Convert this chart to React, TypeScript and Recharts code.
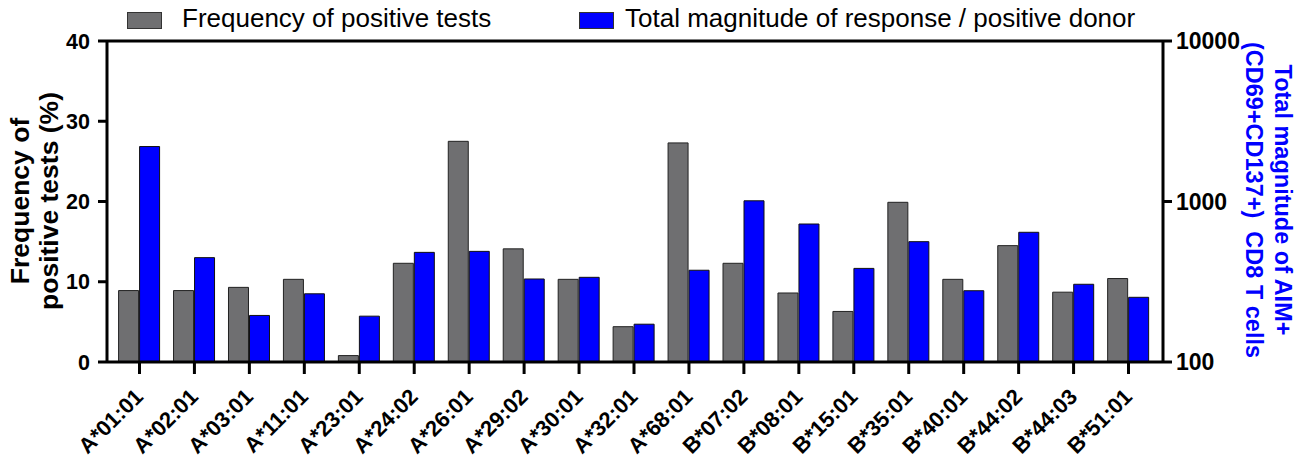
import React from "react";
import {
  ComposedChart,
  Bar,
  XAxis,
  YAxis,
  ReferenceLine,
} from "recharts";

const categories = [
  "A*01:01", "A*02:01", "A*03:01", "A*11:01", "A*23:01", "A*24:02", "A*26:01",
  "A*29:02", "A*30:01", "A*32:01", "A*68:01", "B*07:02", "B*08:01", "B*15:01",
  "B*35:01", "B*40:01", "B*44:02", "B*44:03", "B*51:01",
];
const frequency = [8.9, 8.9, 9.3, 10.3, 0.8, 12.3, 27.5, 14.1, 10.3, 4.4, 27.3, 12.3, 8.6, 6.3, 19.9, 10.3, 14.5, 8.7, 10.4];
const magnitude = [2200, 447, 195, 266, 193, 482, 489, 329, 337, 172, 373, 1010, 724, 383, 562, 278, 643, 305, 253];
const leftTicks = [0, 10, 20, 30, 40];
const rightTicks = [100, 1000, 10000];

const seriesNames = {
  frequency: "Frequency of positive tests",
  magnitude: "Total magnitude of response / positive donor",
};

const data = categories.map((c, i) => ({
  name: c,
  frequency: frequency[i],
  magnitude: magnitude[i],
}));

const FONT = "'Liberation Sans', Arial, Helvetica, sans-serif";
const GRAY = "#6f6f71";
const BLUE = "#0000ff";

const XTick = (props: any) => {
  const { x, y, payload } = props;
  return (
    <g transform={`translate(${x + 5},${y + 22})`}>
      <text
        x={0}
        y={0}
        textAnchor="end"
        transform="rotate(-45)"
        fontFamily={FONT}
        fontWeight="bold"
        fontSize={22}
        fill="#000"
      >
        {payload.value}
      </text>
    </g>
  );
};

const LeftLabel = () => (
  <g>
    <text
      transform="translate(29,201) rotate(-90)"
      textAnchor="middle"
      fontFamily={FONT}
      fontWeight="bold"
      fontSize={26.5}
      fill="#000"
    >
      Frequency of
    </text>
    <text
      transform="translate(58,201) rotate(-90)"
      textAnchor="middle"
      fontFamily={FONT}
      fontWeight="bold"
      fontSize={26.5}
      fill="#000"
    >
      positive tests (%)
    </text>
  </g>
);

const RightLabel = () => (
  <g>
    <text
      transform="translate(1275,200) rotate(90)"
      textAnchor="middle"
      fontFamily={FONT}
      fontWeight="bold"
      fontSize={23.5}
      fill={BLUE}
    >
      Total magnitude of AIM+
    </text>
    <text
      transform="translate(1246,200) rotate(90)"
      textAnchor="middle"
      fontFamily={FONT}
      fontWeight="bold"
      fontSize={23.5}
      fill={BLUE}
      style={{ whiteSpace: "pre" }}
    >
      (CD69+CD137+)  CD8 T cells
    </text>
  </g>
);

const swatch = (color: string, left: number) => (
  <div
    style={{
      position: "absolute",
      left,
      top: 12,
      width: 33,
      height: 15,
      background: color,
      border: "1px solid #333",
    }}
  />
);

const legendText = (text: string, left: number) => (
  <div
    style={{
      position: "absolute",
      left,
      top: 5,
      fontFamily: FONT,
      fontSize: 26,
      lineHeight: "26px",
      color: "#000",
      whiteSpace: "nowrap",
    }}
  >
    {text}
  </div>
);

export default function App() {
  return (
    <div style={{ position: "absolute", left: 0, top: 0, width: 1297, height: 458, background: "#fff" }}>
      <ComposedChart
        width={1297}
        height={458}
        data={data}
        margin={{ top: 41, right: 0, bottom: 0, left: 0 }}
        barCategoryGap="12%"
        barGap={1}
      >
        <XAxis
          dataKey="name"
          xAxisId="x"
          height={96}
          padding={{ left: 5, right: 7 }}
          interval={0}
          tickSize={12}
          tick={<XTick />}
          axisLine={{ stroke: "#000", strokeWidth: 3 }}
          tickLine={{ stroke: "#000", strokeWidth: 3 }}
        />
        <YAxis
          yAxisId="left"
          orientation="left"
          width={107}
          domain={[0, 40]}
          ticks={leftTicks}
          interval={0}
          tickSize={9}
          tickMargin={8}
          axisLine={{ stroke: "#000", strokeWidth: 3 }}
          tickLine={{ stroke: "#000", strokeWidth: 3 }}
          tick={{ fontFamily: FONT, fontWeight: "bold", fontSize: 21.5, fill: "#000" }}
          label={<LeftLabel />}
        />
        <YAxis
          yAxisId="right"
          orientation="right"
          width={134}
          scale="log"
          domain={[100, 10000]}
          allowDataOverflow
          ticks={rightTicks}
          interval={0}
          tickSize={9}
          tickMargin={4}
          axisLine={{ stroke: "#000", strokeWidth: 3 }}
          tickLine={{ stroke: "#000", strokeWidth: 3 }}
          tick={{ fontFamily: FONT, fontWeight: "bold", fontSize: 23, fill: "#000" }}
          label={<RightLabel />}
        />
        <ReferenceLine yAxisId="left" xAxisId="x" y={40} stroke="#000" strokeWidth={3} />
        <Bar
          dataKey="frequency"
          name={seriesNames.frequency}
          xAxisId="x"
          yAxisId="left"
          fill={GRAY}
          stroke="#222"
          strokeWidth={1}
          isAnimationActive={false}
        />
        <Bar
          dataKey="magnitude"
          name={seriesNames.magnitude}
          xAxisId="x"
          yAxisId="right"
          fill={BLUE}
          stroke="#111"
          strokeWidth={1}
          isAnimationActive={false}
        />
      </ComposedChart>
      {swatch(GRAY, 127)}
      {legendText(seriesNames.frequency, 182)}
      {swatch(BLUE, 579)}
      {legendText(seriesNames.magnitude, 625)}
    </div>
  );
}
